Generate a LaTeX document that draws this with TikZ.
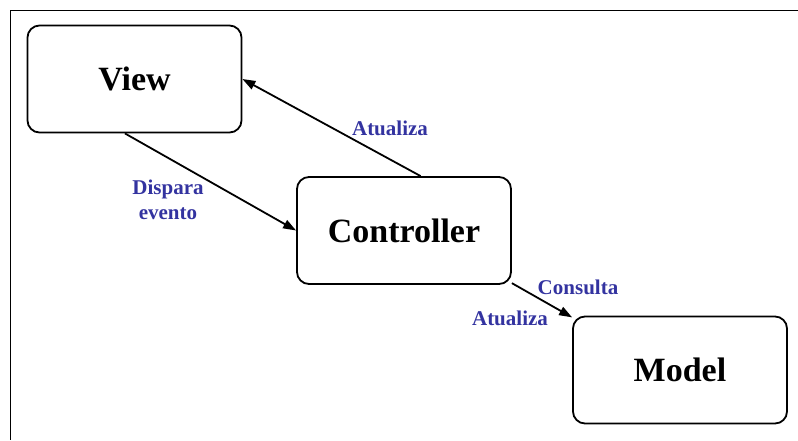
\documentclass[tikz,border=0pt]{standalone}
\usepackage{fontspec}
\setmainfont{Liberation Serif}
\usetikzlibrary{calc,arrows.meta}

\definecolor{rotulo}{RGB}{51,51,160}

\begin{document}
\begin{tikzpicture}[x=1pt, y=-1pt, auto]
    \tikzset{
        caixa/.style={draw, line width=1.8pt, rounded corners=12pt,
            minimum width=214pt, minimum height=107pt,
            font=\fontsize{34}{40}\selectfont\bfseries},
        seta/.style={line width=1.8pt, -{Triangle[length=13pt, width=9pt]}},
        rotulo/.style={text=rotulo, font=\fontsize{21}{25}\selectfont\bfseries, align=center}
    }
    \useasboundingbox (0, 0) rectangle (798, 440);
    \draw[line width=1.8pt] (798, 10.5) -- (10.5, 10.5) -- (10.5, 440);

    \node[caixa] (view) at (134.5, 79) {View};
    \node[caixa] (controller) at (404, 230.5) {Controller};
    \node[caixa] (model) at (680, 370) {Model};

    \draw[seta] (view.260) -- (controller.west);
    \draw[seta] (controller.73) -- (view.east);
    \draw[seta] (controller.-26) -- (model.154);

    \node[rotulo] (dispara) at (168, 200) {Dispara\\evento};
    \node[rotulo] (atualizaA) at (390, 128) {Atualiza};
    \node[rotulo] (consulta) at (578, 287) {Consulta};
    \node[rotulo] (atualizaB) at (510, 318) {Atualiza};
\end{tikzpicture}
\end{document}
